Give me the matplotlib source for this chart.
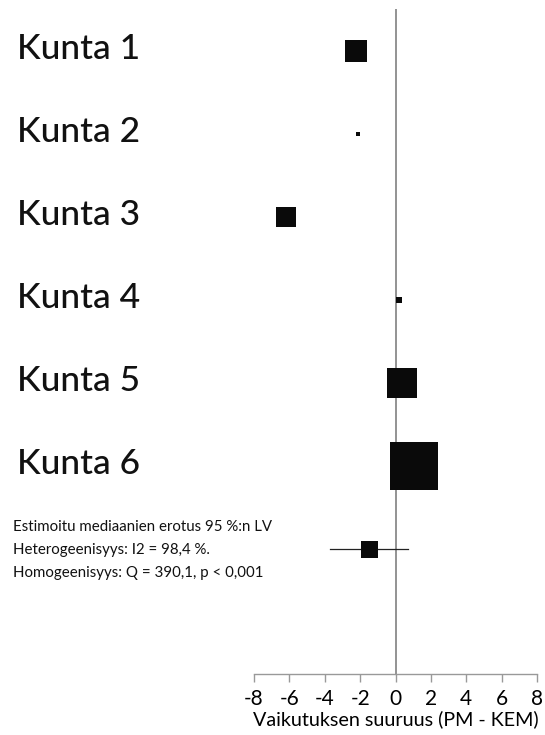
import numpy as np
import matplotlib.pyplot as plt
import matplotlib.transforms as mtransforms

# Data
kunnat = ["Kunta 1", "Kunta 2", "Kunta 3", "Kunta 4", "Kunta 5", "Kunta 6"]
erotus = [-2.26, -2.13, -6.2, 0.19, 0.37, 1.07]   # mediaanien erotus
paino = [11.3, 0.6, 9.8, 0.9, 21.2, 56.2]         # paino %
yhd_est = -1.49
yhd_ala = -3.73
yhd_yla = 0.69
xticks = [-8, -6, -4, -2, 0, 2, 4, 6, 8]
teksti = ["Estimoitu mediaanien erotus 95 %:n LV",
          "Heterogeenisyys: I2 = 98,4 %.",
          "Homogeenisyys: Q = 390,1, p < 0,001"]

plt.rcParams['font.family'] = ['Lato', 'DejaVu Sans']

fig = plt.figure(figsize=(5.45, 7.35), dpi=100)
W, H = 545, 735
ax = fig.add_axes([254 / W, 1 - 674 / H, (537 - 254) / W, (674 - 9) / H])
ax.set_xlim(-8, 8)
ax.set_ylim(7.5, -0.51)

# nollaviiva
ax.axvline(0, color="#808080", lw=1.2, zorder=1)

# kuntakohtaiset neliöt, koko painon mukaan
for i, (e, p) in enumerate(zip(erotus, paino)):
    side_px = 6.4 * np.sqrt(p)
    ax.plot(e, i, marker="s", markersize=side_px * 0.72, color="#0a0a0a",
            markeredgewidth=0, zorder=3)

# yhdistetty estimaatti
ry = len(kunnat)
ax.plot([yhd_ala, yhd_yla], [ry, ry], color="#222222", lw=0.9, zorder=2)
ax.plot(yhd_est, ry, marker="s", markersize=17 * 0.72, color="#0a0a0a",
        markeredgewidth=0, zorder=3)

# akselit
for s in ["top", "right", "left"]:
    ax.spines[s].set_visible(False)
ax.spines["bottom"].set_color("#999999")
ax.spines["bottom"].set_linewidth(1.0)
ax.set_yticks([])
ax.set_xticks(xticks)
ax.set_xticklabels([str(t) for t in xticks])
ax.tick_params(axis="x", direction="out", length=6, width=1.0, color="#999999",
               labelsize=15, pad=5)
ax.set_xlabel("Vaikutuksen suuruus (PM - KEM)", fontsize=14.2, labelpad=1)

# kuntien nimet
trans = mtransforms.blended_transform_factory(fig.transFigure, ax.transData)
for i, k in enumerate(kunnat):
    ax.text(17 / W, i - 0.03, k, transform=trans, fontsize=25.5,
            fontweight="medium", ha="left", va="center", color="#111111")

# tilastotekstit
for j, t in enumerate(teksti):
    fig.text(13 / W, 1 - (527 + 23 * j) / H, t, fontsize=10.8, ha="left",
             va="center", color="#111111")

fig.savefig("out.png", dpi=100)
